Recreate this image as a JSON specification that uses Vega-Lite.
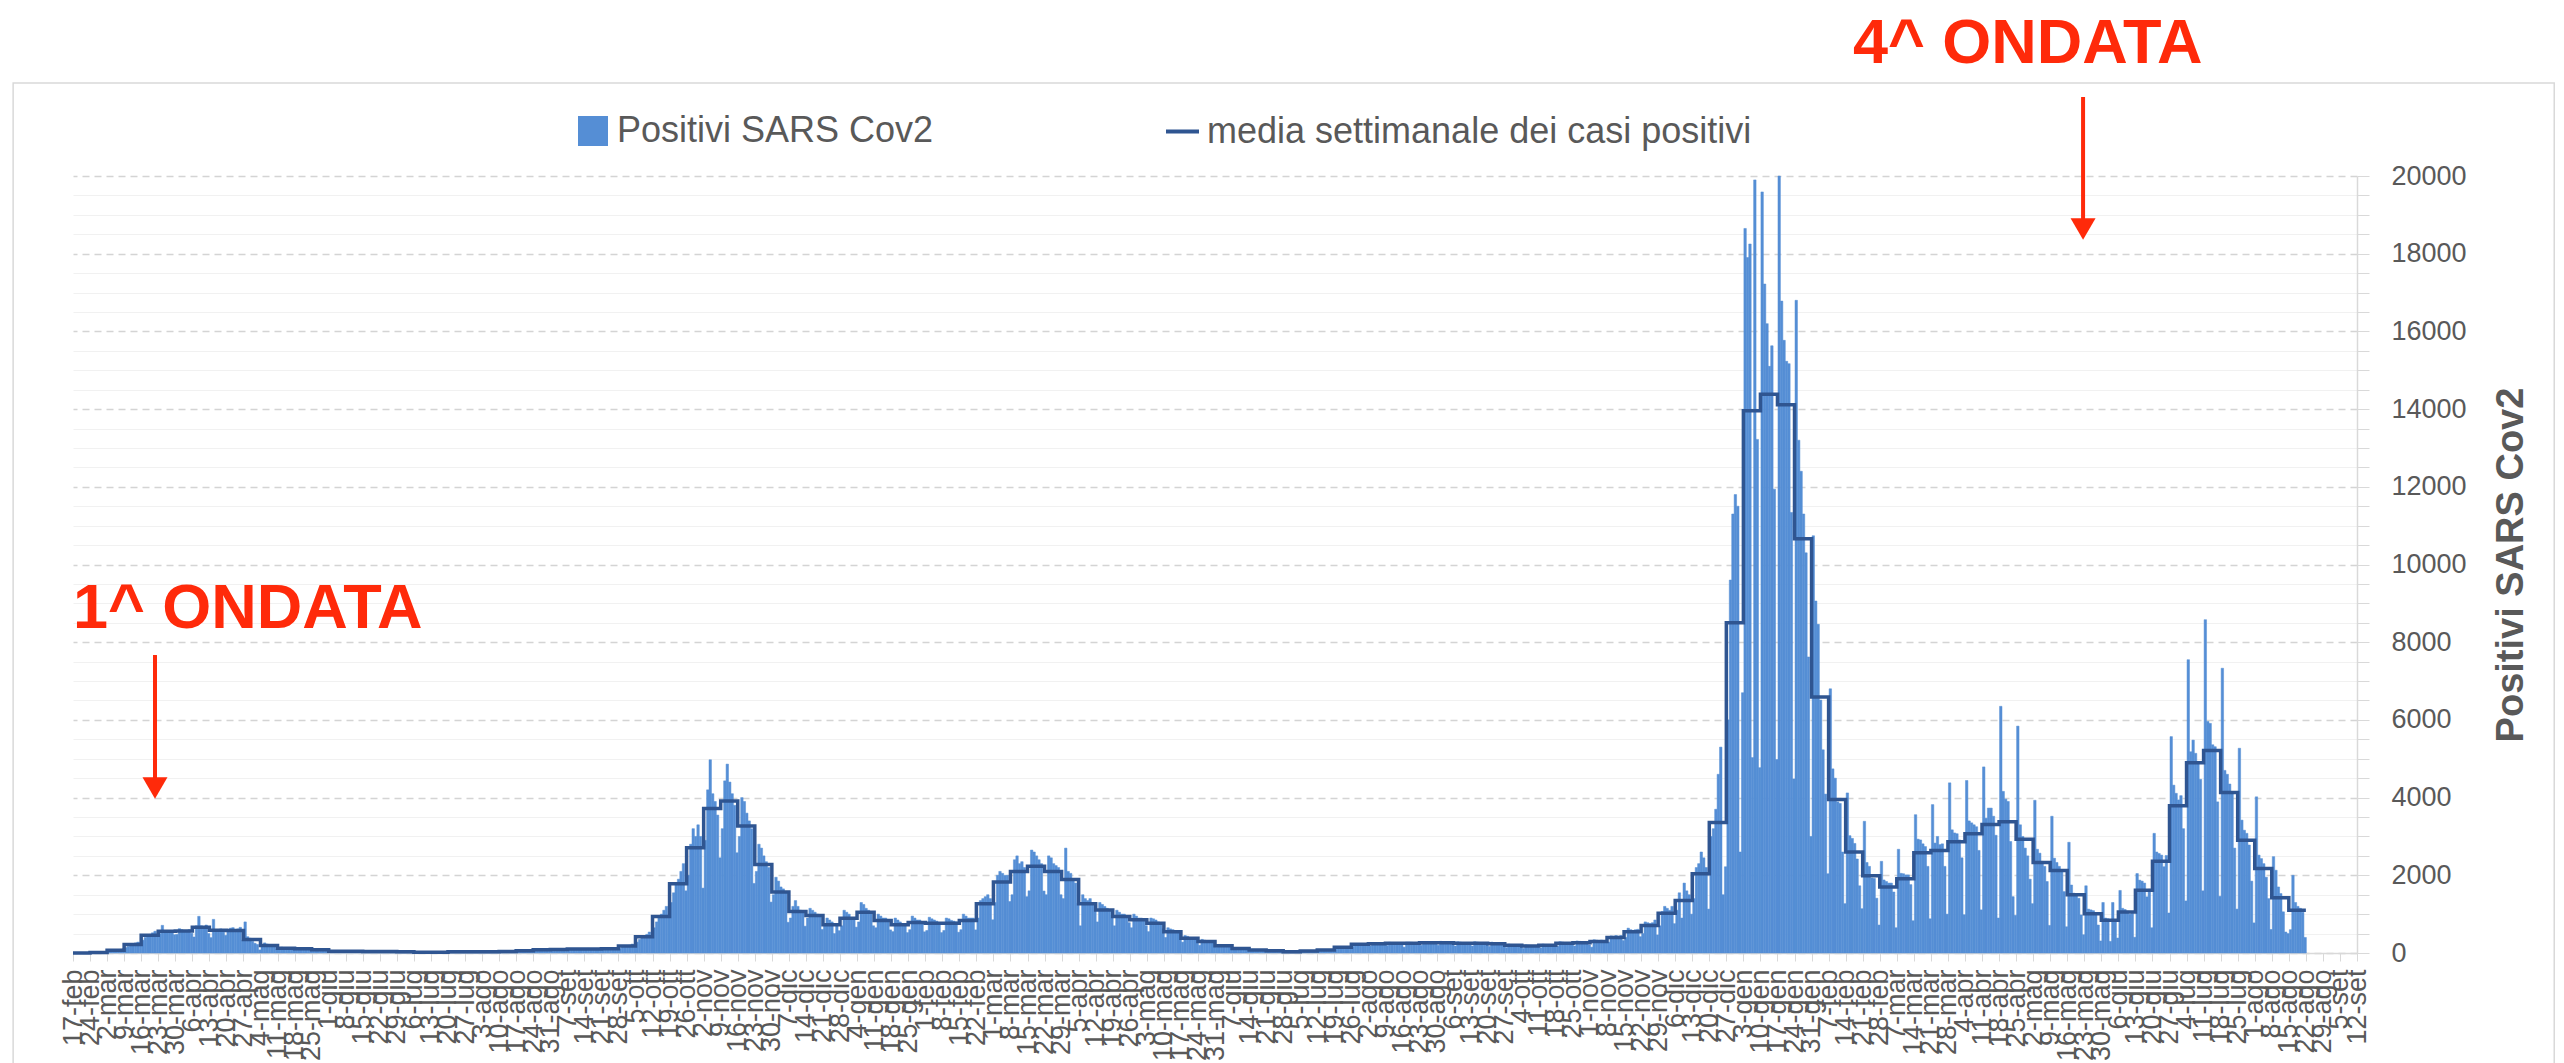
{
"$schema":"https://vega.github.io/schema/vega-lite/v6.json",
"width":2284,"height":777,
"autosize":{"type":"none"},
"padding":{"left":73,"top":176,"right":207,"bottom":110},
"background":"white",
"config":{"view":{"stroke":null},"font":"Liberation Sans","axisX":{"labelOverlap":false}},
"datasets":{
"days":[
{"d":"2020-02-17","p":0},{"d":"2020-02-18","p":0},{"d":"2020-02-19","p":0},{"d":"2020-02-20","p":0},{"d":"2020-02-21","p":2},{"d":"2020-02-22","p":5},{"d":"2020-02-23","p":8},
{"d":"2020-02-24","p":6},{"d":"2020-02-25","p":10},{"d":"2020-02-26","p":12},{"d":"2020-02-27","p":14},{"d":"2020-02-28","p":12},{"d":"2020-02-29","p":18},{"d":"2020-03-01","p":12},
{"d":"2020-03-02","p":30},{"d":"2020-03-03","p":45},{"d":"2020-03-04","p":60},{"d":"2020-03-05","p":70},{"d":"2020-03-06","p":80},{"d":"2020-03-07","p":95},{"d":"2020-03-08","p":110},
{"d":"2020-03-09","p":140},{"d":"2020-03-10","p":170},{"d":"2020-03-11","p":200},{"d":"2020-03-12","p":230},{"d":"2020-03-13","p":260},{"d":"2020-03-14","p":280},{"d":"2020-03-15","p":260},
{"d":"2020-03-16","p":330},{"d":"2020-03-17","p":400},{"d":"2020-03-18","p":450},{"d":"2020-03-19","p":480},{"d":"2020-03-20","p":520},{"d":"2020-03-21","p":560},{"d":"2020-03-22","p":480},
{"d":"2020-03-23","p":500},{"d":"2020-03-24","p":712},{"d":"2020-03-25","p":560},{"d":"2020-03-26","p":580},{"d":"2020-03-27","p":540},{"d":"2020-03-28","p":560},{"d":"2020-03-29","p":470},
{"d":"2020-03-30","p":480},{"d":"2020-03-31","p":626},{"d":"2020-04-01","p":600},{"d":"2020-04-02","p":560},{"d":"2020-04-03","p":580},{"d":"2020-04-04","p":600},{"d":"2020-04-05","p":510},
{"d":"2020-04-06","p":412},{"d":"2020-04-07","p":700},{"d":"2020-04-08","p":944},{"d":"2020-04-09","p":700},{"d":"2020-04-10","p":640},{"d":"2020-04-11","p":720},{"d":"2020-04-12","p":500},
{"d":"2020-04-13","p":395},{"d":"2020-04-14","p":866},{"d":"2020-04-15","p":600},{"d":"2020-04-16","p":560},{"d":"2020-04-17","p":620},{"d":"2020-04-18","p":600},{"d":"2020-04-19","p":455},
{"d":"2020-04-20","p":560},{"d":"2020-04-21","p":640},{"d":"2020-04-22","p":652},{"d":"2020-04-23","p":600},{"d":"2020-04-24","p":620},{"d":"2020-04-25","p":660},{"d":"2020-04-26","p":330},
{"d":"2020-04-27","p":800},{"d":"2020-04-28","p":420},{"d":"2020-04-29","p":380},{"d":"2020-04-30","p":300},{"d":"2020-05-01","p":250},{"d":"2020-05-02","p":220},{"d":"2020-05-03","p":80},
{"d":"2020-05-04","p":180},{"d":"2020-05-05","p":260},{"d":"2020-05-06","p":230},{"d":"2020-05-07","p":200},{"d":"2020-05-08","p":190},{"d":"2020-05-09","p":170},{"d":"2020-05-10","p":100},
{"d":"2020-05-11","p":110},{"d":"2020-05-12","p":150},{"d":"2020-05-13","p":140},{"d":"2020-05-14","p":130},{"d":"2020-05-15","p":120},{"d":"2020-05-16","p":110},{"d":"2020-05-17","p":80},
{"d":"2020-05-18","p":100},{"d":"2020-05-19","p":130},{"d":"2020-05-20","p":120},{"d":"2020-05-21","p":115},{"d":"2020-05-22","p":110},{"d":"2020-05-23","p":105},{"d":"2020-05-24","p":90},
{"d":"2020-05-25","p":70},{"d":"2020-05-26","p":100},{"d":"2020-05-27","p":95},{"d":"2020-05-28","p":90},{"d":"2020-05-29","p":85},{"d":"2020-05-30","p":80},{"d":"2020-05-31","p":75},
{"d":"2020-06-01","p":40},{"d":"2020-06-02","p":55},{"d":"2020-06-03","p":50},{"d":"2020-06-04","p":45},{"d":"2020-06-05","p":45},{"d":"2020-06-06","p":40},{"d":"2020-06-07","p":40},
{"d":"2020-06-08","p":35},{"d":"2020-06-09","p":50},{"d":"2020-06-10","p":48},{"d":"2020-06-11","p":45},{"d":"2020-06-12","p":40},{"d":"2020-06-13","p":40},{"d":"2020-06-14","p":36},
{"d":"2020-06-15","p":30},{"d":"2020-06-16","p":48},{"d":"2020-06-17","p":45},{"d":"2020-06-18","p":42},{"d":"2020-06-19","p":40},{"d":"2020-06-20","p":40},{"d":"2020-06-21","p":35},
{"d":"2020-06-22","p":30},{"d":"2020-06-23","p":45},{"d":"2020-06-24","p":42},{"d":"2020-06-25","p":40},{"d":"2020-06-26","p":38},{"d":"2020-06-27","p":36},{"d":"2020-06-28","p":35},
{"d":"2020-06-29","p":28},{"d":"2020-06-30","p":40},{"d":"2020-07-01","p":38},{"d":"2020-07-02","p":36},{"d":"2020-07-03","p":35},{"d":"2020-07-04","p":35},{"d":"2020-07-05","p":33},
{"d":"2020-07-06","p":15},{"d":"2020-07-07","p":25},{"d":"2020-07-08","p":22},{"d":"2020-07-09","p":20},{"d":"2020-07-10","p":20},{"d":"2020-07-11","p":18},{"d":"2020-07-12","p":20},
{"d":"2020-07-13","p":14},{"d":"2020-07-14","p":20},{"d":"2020-07-15","p":20},{"d":"2020-07-16","p":18},{"d":"2020-07-17","p":18},{"d":"2020-07-18","p":18},{"d":"2020-07-19","p":18},
{"d":"2020-07-20","p":25},{"d":"2020-07-21","p":35},{"d":"2020-07-22","p":32},{"d":"2020-07-23","p":30},{"d":"2020-07-24","p":30},{"d":"2020-07-25","p":30},{"d":"2020-07-26","p":28},
{"d":"2020-07-27","p":28},{"d":"2020-07-28","p":38},{"d":"2020-07-29","p":35},{"d":"2020-07-30","p":34},{"d":"2020-07-31","p":33},{"d":"2020-08-01","p":32},{"d":"2020-08-02","p":31},
{"d":"2020-08-03","p":30},{"d":"2020-08-04","p":40},{"d":"2020-08-05","p":38},{"d":"2020-08-06","p":36},{"d":"2020-08-07","p":35},{"d":"2020-08-08","p":33},{"d":"2020-08-09","p":33},
{"d":"2020-08-10","p":30},{"d":"2020-08-11","p":42},{"d":"2020-08-12","p":40},{"d":"2020-08-13","p":40},{"d":"2020-08-14","p":38},{"d":"2020-08-15","p":40},{"d":"2020-08-16","p":36},
{"d":"2020-08-17","p":45},{"d":"2020-08-18","p":62},{"d":"2020-08-19","p":65},{"d":"2020-08-20","p":62},{"d":"2020-08-21","p":60},{"d":"2020-08-22","p":66},{"d":"2020-08-23","p":60},
{"d":"2020-08-24","p":70},{"d":"2020-08-25","p":95},{"d":"2020-08-26","p":90},{"d":"2020-08-27","p":88},{"d":"2020-08-28","p":85},{"d":"2020-08-29","p":90},{"d":"2020-08-30","p":77},
{"d":"2020-08-31","p":70},{"d":"2020-09-01","p":100},{"d":"2020-09-02","p":95},{"d":"2020-09-03","p":92},{"d":"2020-09-04","p":90},{"d":"2020-09-05","p":95},{"d":"2020-09-06","p":74},
{"d":"2020-09-07","p":80},{"d":"2020-09-08","p":115},{"d":"2020-09-09","p":110},{"d":"2020-09-10","p":105},{"d":"2020-09-11","p":100},{"d":"2020-09-12","p":105},{"d":"2020-09-13","p":85},
{"d":"2020-09-14","p":80},{"d":"2020-09-15","p":118},{"d":"2020-09-16","p":110},{"d":"2020-09-17","p":108},{"d":"2020-09-18","p":105},{"d":"2020-09-19","p":110},{"d":"2020-09-20","p":83},
{"d":"2020-09-21","p":90},{"d":"2020-09-22","p":125},{"d":"2020-09-23","p":120},{"d":"2020-09-24","p":115},{"d":"2020-09-25","p":112},{"d":"2020-09-26","p":120},{"d":"2020-09-27","p":88},
{"d":"2020-09-28","p":120},{"d":"2020-09-29","p":170},{"d":"2020-09-30","p":180},{"d":"2020-10-01","p":190},{"d":"2020-10-02","p":200},{"d":"2020-10-03","p":230},{"d":"2020-10-04","p":170},
{"d":"2020-10-05","p":280},{"d":"2020-10-06","p":350},{"d":"2020-10-07","p":400},{"d":"2020-10-08","p":440},{"d":"2020-10-09","p":480},{"d":"2020-10-10","p":540},{"d":"2020-10-11","p":450},
{"d":"2020-10-12","p":650},{"d":"2020-10-13","p":800},{"d":"2020-10-14","p":900},{"d":"2020-10-15","p":1000},{"d":"2020-10-16","p":1100},{"d":"2020-10-17","p":1200},{"d":"2020-10-18","p":930},
{"d":"2020-10-19","p":1300},{"d":"2020-10-20","p":1550},{"d":"2020-10-21","p":1750},{"d":"2020-10-22","p":1900},{"d":"2020-10-23","p":2100},{"d":"2020-10-24","p":2300},{"d":"2020-10-25","p":1600},
{"d":"2020-10-26","p":2000},{"d":"2020-10-27","p":2800},{"d":"2020-10-28","p":3200},{"d":"2020-10-29","p":3000},{"d":"2020-10-30","p":3300},{"d":"2020-10-31","p":3000},{"d":"2020-11-01","p":1670},
{"d":"2020-11-02","p":2900},{"d":"2020-11-03","p":4200},{"d":"2020-11-04","p":4974},{"d":"2020-11-05","p":4100},{"d":"2020-11-06","p":3900},{"d":"2020-11-07","p":3550},{"d":"2020-11-08","p":2450},
{"d":"2020-11-09","p":3200},{"d":"2020-11-10","p":4431},{"d":"2020-11-11","p":4862},{"d":"2020-11-12","p":4400},{"d":"2020-11-13","p":4100},{"d":"2020-11-14","p":3800},{"d":"2020-11-15","p":2580},
{"d":"2020-11-16","p":3000},{"d":"2020-11-17","p":4000},{"d":"2020-11-18","p":3900},{"d":"2020-11-19","p":3600},{"d":"2020-11-20","p":3400},{"d":"2020-11-21","p":3200},{"d":"2020-11-22","p":1790},
{"d":"2020-11-23","p":2100},{"d":"2020-11-24","p":2800},{"d":"2020-11-25","p":2700},{"d":"2020-11-26","p":2500},{"d":"2020-11-27","p":2350},{"d":"2020-11-28","p":2200},{"d":"2020-11-29","p":1310},
{"d":"2020-11-30","p":1500},{"d":"2020-12-01","p":1950},{"d":"2020-12-02","p":1850},{"d":"2020-12-03","p":1700},{"d":"2020-12-04","p":1650},{"d":"2020-12-05","p":1550},{"d":"2020-12-06","p":790},
{"d":"2020-12-07","p":900},{"d":"2020-12-08","p":1200},{"d":"2020-12-09","p":1350},{"d":"2020-12-10","p":1200},{"d":"2020-12-11","p":1100},{"d":"2020-12-12","p":1050},{"d":"2020-12-13","p":690},
{"d":"2020-12-14","p":900},{"d":"2020-12-15","p":1150},{"d":"2020-12-16","p":1100},{"d":"2020-12-17","p":1050},{"d":"2020-12-18","p":1000},{"d":"2020-12-19","p":950},{"d":"2020-12-20","p":605},
{"d":"2020-12-21","p":700},{"d":"2020-12-22","p":900},{"d":"2020-12-23","p":850},{"d":"2020-12-24","p":800},{"d":"2020-12-25","p":500},{"d":"2020-12-26","p":750},{"d":"2020-12-27","p":575},
{"d":"2020-12-28","p":700},{"d":"2020-12-29","p":1100},{"d":"2020-12-30","p":1050},{"d":"2020-12-31","p":1000},{"d":"2021-01-01","p":850},{"d":"2021-01-02","p":900},{"d":"2021-01-03","p":665},
{"d":"2021-01-04","p":800},{"d":"2021-01-05","p":1300},{"d":"2021-01-06","p":1250},{"d":"2021-01-07","p":1150},{"d":"2021-01-08","p":1100},{"d":"2021-01-09","p":1050},{"d":"2021-01-10","p":700},
{"d":"2021-01-11","p":650},{"d":"2021-01-12","p":1000},{"d":"2021-01-13","p":950},{"d":"2021-01-14","p":900},{"d":"2021-01-15","p":900},{"d":"2021-01-16","p":850},{"d":"2021-01-17","p":595},
{"d":"2021-01-18","p":550},{"d":"2021-01-19","p":900},{"d":"2021-01-20","p":850},{"d":"2021-01-21","p":800},{"d":"2021-01-22","p":750},{"d":"2021-01-23","p":700},{"d":"2021-01-24","p":525},
{"d":"2021-01-25","p":600},{"d":"2021-01-26","p":950},{"d":"2021-01-27","p":900},{"d":"2021-01-28","p":850},{"d":"2021-01-29","p":850},{"d":"2021-01-30","p":800},{"d":"2021-01-31","p":545},
{"d":"2021-02-01","p":580},{"d":"2021-02-02","p":920},{"d":"2021-02-03","p":880},{"d":"2021-02-04","p":850},{"d":"2021-02-05","p":820},{"d":"2021-02-06","p":780},{"d":"2021-02-07","p":525},
{"d":"2021-02-08","p":580},{"d":"2021-02-09","p":900},{"d":"2021-02-10","p":880},{"d":"2021-02-11","p":840},{"d":"2021-02-12","p":820},{"d":"2021-02-13","p":800},{"d":"2021-02-14","p":535},
{"d":"2021-02-15","p":600},{"d":"2021-02-16","p":1000},{"d":"2021-02-17","p":950},{"d":"2021-02-18","p":900},{"d":"2021-02-19","p":900},{"d":"2021-02-20","p":900},{"d":"2021-02-21","p":595},
{"d":"2021-02-22","p":900},{"d":"2021-02-23","p":1350},{"d":"2021-02-24","p":1400},{"d":"2021-02-25","p":1450},{"d":"2021-02-26","p":1500},{"d":"2021-02-27","p":1400},{"d":"2021-02-28","p":855},
{"d":"2021-03-01","p":1300},{"d":"2021-03-02","p":2000},{"d":"2021-03-03","p":2100},{"d":"2021-03-04","p":2050},{"d":"2021-03-05","p":2000},{"d":"2021-03-06","p":2000},{"d":"2021-03-07","p":1325},
{"d":"2021-03-08","p":1500},{"d":"2021-03-09","p":2400},{"d":"2021-03-10","p":2500},{"d":"2021-03-11","p":2300},{"d":"2021-03-12","p":2350},{"d":"2021-03-13","p":2200},{"d":"2021-03-14","p":1450},
{"d":"2021-03-15","p":1600},{"d":"2021-03-16","p":2650},{"d":"2021-03-17","p":2600},{"d":"2021-03-18","p":2500},{"d":"2021-03-19","p":2400},{"d":"2021-03-20","p":2300},{"d":"2021-03-21","p":1595},
{"d":"2021-03-22","p":1500},{"d":"2021-03-23","p":2500},{"d":"2021-03-24","p":2450},{"d":"2021-03-25","p":2300},{"d":"2021-03-26","p":2250},{"d":"2021-03-27","p":2200},{"d":"2021-03-28","p":1500},
{"d":"2021-03-29","p":1400},{"d":"2021-03-30","p":2700},{"d":"2021-03-31","p":2100},{"d":"2021-04-01","p":2050},{"d":"2021-04-02","p":1900},{"d":"2021-04-03","p":1800},{"d":"2021-04-04","p":1280},
{"d":"2021-04-05","p":700},{"d":"2021-04-06","p":1500},{"d":"2021-04-07","p":1400},{"d":"2021-04-08","p":1350},{"d":"2021-04-09","p":1400},{"d":"2021-04-10","p":1300},{"d":"2021-04-11","p":1205},
{"d":"2021-04-12","p":800},{"d":"2021-04-13","p":1300},{"d":"2021-04-14","p":1250},{"d":"2021-04-15","p":1200},{"d":"2021-04-16","p":1150},{"d":"2021-04-17","p":1100},{"d":"2021-04-18","p":970},
{"d":"2021-04-19","p":700},{"d":"2021-04-20","p":1100},{"d":"2021-04-21","p":1050},{"d":"2021-04-22","p":1000},{"d":"2021-04-23","p":1000},{"d":"2021-04-24","p":950},{"d":"2021-04-25","p":780},
{"d":"2021-04-26","p":650},{"d":"2021-04-27","p":1000},{"d":"2021-04-28","p":950},{"d":"2021-04-29","p":900},{"d":"2021-04-30","p":900},{"d":"2021-05-01","p":880},{"d":"2021-05-02","p":705},
{"d":"2021-05-03","p":550},{"d":"2021-05-04","p":900},{"d":"2021-05-05","p":880},{"d":"2021-05-06","p":850},{"d":"2021-05-07","p":800},{"d":"2021-05-08","p":750},{"d":"2021-05-09","p":625},
{"d":"2021-05-10","p":400},{"d":"2021-05-11","p":650},{"d":"2021-05-12","p":620},{"d":"2021-05-13","p":600},{"d":"2021-05-14","p":550},{"d":"2021-05-15","p":520},{"d":"2021-05-16","p":510},
{"d":"2021-05-17","p":280},{"d":"2021-05-18","p":450},{"d":"2021-05-19","p":430},{"d":"2021-05-20","p":400},{"d":"2021-05-21","p":380},{"d":"2021-05-22","p":370},{"d":"2021-05-23","p":350},
{"d":"2021-05-24","p":200},{"d":"2021-05-25","p":350},{"d":"2021-05-26","p":330},{"d":"2021-05-27","p":310},{"d":"2021-05-28","p":300},{"d":"2021-05-29","p":290},{"d":"2021-05-30","p":285},
{"d":"2021-05-31","p":150},{"d":"2021-06-01","p":220},{"d":"2021-06-02","p":200},{"d":"2021-06-03","p":200},{"d":"2021-06-04","p":180},{"d":"2021-06-05","p":160},{"d":"2021-06-06","p":185},
{"d":"2021-06-07","p":80},{"d":"2021-06-08","p":140},{"d":"2021-06-09","p":130},{"d":"2021-06-10","p":120},{"d":"2021-06-11","p":110},{"d":"2021-06-12","p":110},{"d":"2021-06-13","p":115},
{"d":"2021-06-14","p":60},{"d":"2021-06-15","p":95},{"d":"2021-06-16","p":85},{"d":"2021-06-17","p":80},{"d":"2021-06-18","p":75},{"d":"2021-06-19","p":75},{"d":"2021-06-20","p":76},
{"d":"2021-06-21","p":45},{"d":"2021-06-22","p":70},{"d":"2021-06-23","p":65},{"d":"2021-06-24","p":60},{"d":"2021-06-25","p":60},{"d":"2021-06-26","p":60},{"d":"2021-06-27","p":60},
{"d":"2021-06-28","p":25},{"d":"2021-06-29","p":40},{"d":"2021-06-30","p":38},{"d":"2021-07-01","p":36},{"d":"2021-07-02","p":35},{"d":"2021-07-03","p":35},{"d":"2021-07-04","p":36},
{"d":"2021-07-05","p":35},{"d":"2021-07-06","p":60},{"d":"2021-07-07","p":55},{"d":"2021-07-08","p":55},{"d":"2021-07-09","p":52},{"d":"2021-07-10","p":52},{"d":"2021-07-11","p":55},
{"d":"2021-07-12","p":55},{"d":"2021-07-13","p":85},{"d":"2021-07-14","p":80},{"d":"2021-07-15","p":80},{"d":"2021-07-16","p":80},{"d":"2021-07-17","p":85},{"d":"2021-07-18","p":81},
{"d":"2021-07-19","p":100},{"d":"2021-07-20","p":150},{"d":"2021-07-21","p":160},{"d":"2021-07-22","p":155},{"d":"2021-07-23","p":150},{"d":"2021-07-24","p":160},{"d":"2021-07-25","p":161},
{"d":"2021-07-26","p":170},{"d":"2021-07-27","p":240},{"d":"2021-07-28","p":240},{"d":"2021-07-29","p":230},{"d":"2021-07-30","p":235},{"d":"2021-07-31","p":230},{"d":"2021-08-01","p":230},
{"d":"2021-08-02","p":180},{"d":"2021-08-03","p":260},{"d":"2021-08-04","p":265},{"d":"2021-08-05","p":255},{"d":"2021-08-06","p":250},{"d":"2021-08-07","p":250},{"d":"2021-08-08","p":220},
{"d":"2021-08-09","p":190},{"d":"2021-08-10","p":275},{"d":"2021-08-11","p":270},{"d":"2021-08-12","p":265},{"d":"2021-08-13","p":260},{"d":"2021-08-14","p":250},{"d":"2021-08-15","p":240},
{"d":"2021-08-16","p":150},{"d":"2021-08-17","p":280},{"d":"2021-08-18","p":280},{"d":"2021-08-19","p":275},{"d":"2021-08-20","p":270},{"d":"2021-08-21","p":265},{"d":"2021-08-22","p":230},
{"d":"2021-08-23","p":200},{"d":"2021-08-24","p":295},{"d":"2021-08-25","p":290},{"d":"2021-08-26","p":285},{"d":"2021-08-27","p":280},{"d":"2021-08-28","p":275},{"d":"2021-08-29","p":230},
{"d":"2021-08-30","p":200},{"d":"2021-08-31","p":300},{"d":"2021-09-01","p":290},{"d":"2021-09-02","p":285},{"d":"2021-09-03","p":280},{"d":"2021-09-04","p":270},{"d":"2021-09-05","p":230},
{"d":"2021-09-06","p":180},{"d":"2021-09-07","p":290},{"d":"2021-09-08","p":280},{"d":"2021-09-09","p":270},{"d":"2021-09-10","p":265},{"d":"2021-09-11","p":260},{"d":"2021-09-12","p":205},
{"d":"2021-09-13","p":180},{"d":"2021-09-14","p":290},{"d":"2021-09-15","p":280},{"d":"2021-09-16","p":270},{"d":"2021-09-17","p":265},{"d":"2021-09-18","p":260},{"d":"2021-09-19","p":205},
{"d":"2021-09-20","p":170},{"d":"2021-09-21","p":280},{"d":"2021-09-22","p":270},{"d":"2021-09-23","p":260},{"d":"2021-09-24","p":255},{"d":"2021-09-25","p":250},{"d":"2021-09-26","p":195},
{"d":"2021-09-27","p":140},{"d":"2021-09-28","p":230},{"d":"2021-09-29","p":220},{"d":"2021-09-30","p":215},{"d":"2021-10-01","p":210},{"d":"2021-10-02","p":205},{"d":"2021-10-03","p":166},
{"d":"2021-10-04","p":120},{"d":"2021-10-05","p":210},{"d":"2021-10-06","p":200},{"d":"2021-10-07","p":195},{"d":"2021-10-08","p":190},{"d":"2021-10-09","p":185},{"d":"2021-10-10","p":160},
{"d":"2021-10-11","p":130},{"d":"2021-10-12","p":230},{"d":"2021-10-13","p":220},{"d":"2021-10-14","p":215},{"d":"2021-10-15","p":210},{"d":"2021-10-16","p":200},{"d":"2021-10-17","p":181},
{"d":"2021-10-18","p":170},{"d":"2021-10-19","p":290},{"d":"2021-10-20","p":280},{"d":"2021-10-21","p":270},{"d":"2021-10-22","p":265},{"d":"2021-10-23","p":260},{"d":"2021-10-24","p":215},
{"d":"2021-10-25","p":180},{"d":"2021-10-26","p":310},{"d":"2021-10-27","p":300},{"d":"2021-10-28","p":290},{"d":"2021-10-29","p":285},{"d":"2021-10-30","p":280},{"d":"2021-10-31","p":210},
{"d":"2021-11-01","p":150},{"d":"2021-11-02","p":340},{"d":"2021-11-03","p":330},{"d":"2021-11-04","p":320},{"d":"2021-11-05","p":330},{"d":"2021-11-06","p":320},{"d":"2021-11-07","p":275},
{"d":"2021-11-08","p":280},{"d":"2021-11-09","p":440},{"d":"2021-11-10","p":430},{"d":"2021-11-11","p":450},{"d":"2021-11-12","p":430},{"d":"2021-11-13","p":450},{"d":"2021-11-14","p":320},
{"d":"2021-11-15","p":400},{"d":"2021-11-16","p":640},{"d":"2021-11-17","p":600},{"d":"2021-11-18","p":580},{"d":"2021-11-19","p":600},{"d":"2021-11-20","p":610},{"d":"2021-11-21","p":420},
{"d":"2021-11-22","p":500},{"d":"2021-11-23","p":800},{"d":"2021-11-24","p":780},{"d":"2021-11-25","p":760},{"d":"2021-11-26","p":780},{"d":"2021-11-27","p":850},{"d":"2021-11-28","p":465},
{"d":"2021-11-29","p":700},{"d":"2021-11-30","p":1070},{"d":"2021-12-01","p":1200},{"d":"2021-12-02","p":1150},{"d":"2021-12-03","p":1100},{"d":"2021-12-04","p":1200},{"d":"2021-12-05","p":755},
{"d":"2021-12-06","p":1100},{"d":"2021-12-07","p":1550},{"d":"2021-12-08","p":900},{"d":"2021-12-09","p":1800},{"d":"2021-12-10","p":1600},{"d":"2021-12-11","p":1500},{"d":"2021-12-12","p":1000},
{"d":"2021-12-13","p":1400},{"d":"2021-12-14","p":2200},{"d":"2021-12-15","p":2300},{"d":"2021-12-16","p":2600},{"d":"2021-12-17","p":2450},{"d":"2021-12-18","p":2200},{"d":"2021-12-19","p":1130},
{"d":"2021-12-20","p":3000},{"d":"2021-12-21","p":3200},{"d":"2021-12-22","p":3700},{"d":"2021-12-23","p":4600},{"d":"2021-12-24","p":5300},{"d":"2021-12-25","p":1500},{"d":"2021-12-26","p":2220},
{"d":"2021-12-27","p":6000},{"d":"2021-12-28","p":9600},{"d":"2021-12-29","p":11300},{"d":"2021-12-30","p":11800},{"d":"2021-12-31","p":11500},{"d":"2022-01-01","p":2600},{"d":"2022-01-02","p":6700},
{"d":"2022-01-03","p":18650},{"d":"2022-01-04","p":17900},{"d":"2022-01-05","p":18250},{"d":"2022-01-06","p":5030},{"d":"2022-01-07","p":19900},{"d":"2022-01-08","p":13220},{"d":"2022-01-09","p":4770},
{"d":"2022-01-10","p":19590},{"d":"2022-01-11","p":17220},{"d":"2022-01-12","p":16200},{"d":"2022-01-13","p":15100},{"d":"2022-01-14","p":15630},{"d":"2022-01-15","p":11940},{"d":"2022-01-16","p":4980},
{"d":"2022-01-17","p":20000},{"d":"2022-01-18","p":16780},{"d":"2022-01-19","p":15770},{"d":"2022-01-20","p":15230},{"d":"2022-01-21","p":15170},{"d":"2022-01-22","p":11340},{"d":"2022-01-23","p":4480},
{"d":"2022-01-24","p":16800},{"d":"2022-01-25","p":13200},{"d":"2022-01-26","p":12400},{"d":"2022-01-27","p":11300},{"d":"2022-01-28","p":10300},{"d":"2022-01-29","p":7620},{"d":"2022-01-30","p":3000},
{"d":"2022-01-31","p":10740},{"d":"2022-02-01","p":9060},{"d":"2022-02-02","p":8460},{"d":"2022-02-03","p":6510},{"d":"2022-02-04","p":5230},{"d":"2022-02-05","p":4090},{"d":"2022-02-06","p":2040},
{"d":"2022-02-07","p":6800},{"d":"2022-02-08","p":4740},{"d":"2022-02-09","p":4500},{"d":"2022-02-10","p":3890},{"d":"2022-02-11","p":3850},{"d":"2022-02-12","p":2600},{"d":"2022-02-13","p":1270},
{"d":"2022-02-14","p":4120},{"d":"2022-02-15","p":3020},{"d":"2022-02-16","p":2950},{"d":"2022-02-17","p":2820},{"d":"2022-02-18","p":2420},{"d":"2022-02-19","p":1730},{"d":"2022-02-20","p":1140},
{"d":"2022-02-21","p":3390},{"d":"2022-02-22","p":2330},{"d":"2022-02-23","p":2230},{"d":"2022-02-24","p":1930},{"d":"2022-02-25","p":1920},{"d":"2022-02-26","p":1410},{"d":"2022-02-27","p":720},
{"d":"2022-02-28","p":2360},{"d":"2022-03-01","p":1880},{"d":"2022-03-02","p":1840},{"d":"2022-03-03","p":1800},{"d":"2022-03-04","p":1800},{"d":"2022-03-05","p":1570},{"d":"2022-03-06","p":650},
{"d":"2022-03-07","p":2670},{"d":"2022-03-08","p":2050},{"d":"2022-03-09","p":2040},{"d":"2022-03-10","p":2010},{"d":"2022-03-11","p":2010},{"d":"2022-03-12","p":1760},{"d":"2022-03-13","p":830},
{"d":"2022-03-14","p":3560},{"d":"2022-03-15","p":2930},{"d":"2022-03-16","p":2910},{"d":"2022-03-17","p":2810},{"d":"2022-03-18","p":2740},{"d":"2022-03-19","p":2230},{"d":"2022-03-20","p":880},
{"d":"2022-03-21","p":3820},{"d":"2022-03-22","p":2830},{"d":"2022-03-23","p":3000},{"d":"2022-03-24","p":2790},{"d":"2022-03-25","p":2810},{"d":"2022-03-26","p":2230},{"d":"2022-03-27","p":1000},
{"d":"2022-03-28","p":4380},{"d":"2022-03-29","p":3170},{"d":"2022-03-30","p":3090},{"d":"2022-03-31","p":3070},{"d":"2022-04-01","p":2910},{"d":"2022-04-02","p":2450},{"d":"2022-04-03","p":985},
{"d":"2022-04-04","p":4440},{"d":"2022-04-05","p":3400},{"d":"2022-04-06","p":3350},{"d":"2022-04-07","p":3300},{"d":"2022-04-08","p":3250},{"d":"2022-04-09","p":2640},{"d":"2022-04-10","p":1110},
{"d":"2022-04-11","p":4790},{"d":"2022-04-12","p":3470},{"d":"2022-04-13","p":3730},{"d":"2022-04-14","p":3730},{"d":"2022-04-15","p":3520},{"d":"2022-04-16","p":3030},{"d":"2022-04-17","p":900},
{"d":"2022-04-18","p":6350},{"d":"2022-04-19","p":4160},{"d":"2022-04-20","p":3960},{"d":"2022-04-21","p":3900},{"d":"2022-04-22","p":2870},{"d":"2022-04-23","p":1450},{"d":"2022-04-24","p":970},
{"d":"2022-04-25","p":5840},{"d":"2022-04-26","p":3300},{"d":"2022-04-27","p":3000},{"d":"2022-04-28","p":2700},{"d":"2022-04-29","p":2500},{"d":"2022-04-30","p":1900},{"d":"2022-05-01","p":1270},
{"d":"2022-05-02","p":3930},{"d":"2022-05-03","p":2670},{"d":"2022-05-04","p":2570},{"d":"2022-05-05","p":2360},{"d":"2022-05-06","p":2230},{"d":"2022-05-07","p":1840},{"d":"2022-05-08","p":710},
{"d":"2022-05-09","p":3520},{"d":"2022-05-10","p":2440},{"d":"2022-05-11","p":2330},{"d":"2022-05-12","p":2230},{"d":"2022-05-13","p":2100},{"d":"2022-05-14","p":1580},{"d":"2022-05-15","p":675},
{"d":"2022-05-16","p":2850},{"d":"2022-05-17","p":1750},{"d":"2022-05-18","p":1540},{"d":"2022-05-19","p":1500},{"d":"2022-05-20","p":1410},{"d":"2022-05-21","p":980},{"d":"2022-05-22","p":470},
{"d":"2022-05-23","p":1730},{"d":"2022-05-24","p":1130},{"d":"2022-05-25","p":1110},{"d":"2022-05-26","p":1090},{"d":"2022-05-27","p":980},{"d":"2022-05-28","p":720},{"d":"2022-05-29","p":310},
{"d":"2022-05-30","p":1300},{"d":"2022-05-31","p":900},{"d":"2022-06-01","p":880},{"d":"2022-06-02","p":300},{"d":"2022-06-03","p":1300},{"d":"2022-06-04","p":850},{"d":"2022-06-05","p":385},
{"d":"2022-06-06","p":1610},{"d":"2022-06-07","p":1150},{"d":"2022-06-08","p":1120},{"d":"2022-06-09","p":1080},{"d":"2022-06-10","p":1000},{"d":"2022-06-11","p":1020},{"d":"2022-06-12","p":405},
{"d":"2022-06-13","p":2045},{"d":"2022-06-14","p":1875},{"d":"2022-06-15","p":1850},{"d":"2022-06-16","p":1800},{"d":"2022-06-17","p":1445},{"d":"2022-06-18","p":1640},{"d":"2022-06-19","p":650},
{"d":"2022-06-20","p":3080},{"d":"2022-06-21","p":2600},{"d":"2022-06-22","p":2560},{"d":"2022-06-23","p":2520},{"d":"2022-06-24","p":2220},{"d":"2022-06-25","p":2510},{"d":"2022-06-26","p":1030},
{"d":"2022-06-27","p":5570},{"d":"2022-06-28","p":4320},{"d":"2022-06-29","p":4110},{"d":"2022-06-30","p":3940},{"d":"2022-07-01","p":4050},{"d":"2022-07-02","p":3200},{"d":"2022-07-03","p":1340},
{"d":"2022-07-04","p":7550},{"d":"2022-07-05","p":5180},{"d":"2022-07-06","p":5480},{"d":"2022-07-07","p":5140},{"d":"2022-07-08","p":4880},{"d":"2022-07-09","p":4470},{"d":"2022-07-10","p":1600},
{"d":"2022-07-11","p":8580},{"d":"2022-07-12","p":5960},{"d":"2022-07-13","p":5910},{"d":"2022-07-14","p":5360},{"d":"2022-07-15","p":5310},{"d":"2022-07-16","p":3890},{"d":"2022-07-17","p":1460},
{"d":"2022-07-18","p":7330},{"d":"2022-07-19","p":4700},{"d":"2022-07-20","p":4600},{"d":"2022-07-21","p":4350},{"d":"2022-07-22","p":4100},{"d":"2022-07-23","p":2700},{"d":"2022-07-24","p":1130},
{"d":"2022-07-25","p":5270},{"d":"2022-07-26","p":3420},{"d":"2022-07-27","p":3160},{"d":"2022-07-28","p":3080},{"d":"2022-07-29","p":2780},{"d":"2022-07-30","p":1850},{"d":"2022-07-31","p":775},
{"d":"2022-08-01","p":4020},{"d":"2022-08-02","p":2520},{"d":"2022-08-03","p":2430},{"d":"2022-08-04","p":2300},{"d":"2022-08-05","p":1950},{"d":"2022-08-06","p":1400},{"d":"2022-08-07","p":605},
{"d":"2022-08-08","p":2480},{"d":"2022-08-09","p":2130},{"d":"2022-08-10","p":1700},{"d":"2022-08-11","p":1530},{"d":"2022-08-12","p":1060},{"d":"2022-08-13","p":540},{"d":"2022-08-14","p":500},
{"d":"2022-08-15","p":600},{"d":"2022-08-16","p":2000},{"d":"2022-08-17","p":1300},{"d":"2022-08-18","p":1200},{"d":"2022-08-19","p":1150},{"d":"2022-08-20","p":1050},{"d":"2022-08-21","p":400}
],
"wk":[
{"w":"2020-02-17","m":2},{"w":"2020-02-24","m":12},{"w":"2020-03-02","m":70},{"w":"2020-03-09","m":220},{"w":"2020-03-16","m":460},{"w":"2020-03-23","m":560},{"w":"2020-03-30","m":565},{"w":"2020-04-06","m":660},{"w":"2020-04-13","m":585},{"w":"2020-04-20","m":580},
{"w":"2020-04-27","m":350},{"w":"2020-05-04","m":190},{"w":"2020-05-11","m":120},{"w":"2020-05-18","m":110},{"w":"2020-05-25","m":85},{"w":"2020-06-01","m":45},{"w":"2020-06-08","m":42},{"w":"2020-06-15","m":40},{"w":"2020-06-22","m":38},{"w":"2020-06-29","m":35},
{"w":"2020-07-06","m":20},{"w":"2020-07-13","m":18},{"w":"2020-07-20","m":30},{"w":"2020-07-27","m":33},{"w":"2020-08-03","m":35},{"w":"2020-08-10","m":38},{"w":"2020-08-17","m":60},{"w":"2020-08-24","m":85},{"w":"2020-08-31","m":88},{"w":"2020-09-07","m":100},
{"w":"2020-09-14","m":102},{"w":"2020-09-21","m":110},{"w":"2020-09-28","m":180},{"w":"2020-10-05","m":420},{"w":"2020-10-12","m":940},{"w":"2020-10-19","m":1785},{"w":"2020-10-26","m":2710},{"w":"2020-11-02","m":3720},{"w":"2020-11-09","m":3910},{"w":"2020-11-16","m":3270},
{"w":"2020-11-23","m":2280},{"w":"2020-11-30","m":1570},{"w":"2020-12-07","m":1070},{"w":"2020-12-14","m":965},{"w":"2020-12-21","m":725},{"w":"2020-12-28","m":895},{"w":"2021-01-04","m":1050},{"w":"2021-01-11","m":835},{"w":"2021-01-18","m":725},{"w":"2021-01-25","m":785},
{"w":"2021-02-01","m":765},{"w":"2021-02-08","m":765},{"w":"2021-02-15","m":835},{"w":"2021-02-22","m":1265},{"w":"2021-03-01","m":1825},{"w":"2021-03-08","m":2100},{"w":"2021-03-15","m":2235},{"w":"2021-03-22","m":2100},{"w":"2021-03-29","m":1890},{"w":"2021-04-05","m":1265},
{"w":"2021-04-12","m":1110},{"w":"2021-04-19","m":940},{"w":"2021-04-26","m":855},{"w":"2021-05-03","m":765},{"w":"2021-05-10","m":550},{"w":"2021-05-17","m":380},{"w":"2021-05-24","m":295},{"w":"2021-05-31","m":185},{"w":"2021-06-07","m":115},{"w":"2021-06-14","m":78},
{"w":"2021-06-21","m":60},{"w":"2021-06-28","m":35},{"w":"2021-07-05","m":52},{"w":"2021-07-12","m":78},{"w":"2021-07-19","m":148},{"w":"2021-07-26","m":225},{"w":"2021-08-02","m":240},{"w":"2021-08-09","m":250},{"w":"2021-08-16","m":250},{"w":"2021-08-23","m":265},
{"w":"2021-08-30","m":265},{"w":"2021-09-06","m":250},{"w":"2021-09-13","m":250},{"w":"2021-09-20","m":240},{"w":"2021-09-27","m":198},{"w":"2021-10-04","m":180},{"w":"2021-10-11","m":198},{"w":"2021-10-18","m":250},{"w":"2021-10-25","m":265},{"w":"2021-11-01","m":295},
{"w":"2021-11-08","m":400},{"w":"2021-11-15","m":550},{"w":"2021-11-22","m":705},{"w":"2021-11-29","m":1025},{"w":"2021-12-06","m":1350},{"w":"2021-12-13","m":2040},{"w":"2021-12-20","m":3360},{"w":"2021-12-27","m":8500},{"w":"2022-01-03","m":13960},{"w":"2022-01-10","m":14380},
{"w":"2022-01-17","m":14110},{"w":"2022-01-24","m":10660},{"w":"2022-01-31","m":6590},{"w":"2022-02-07","m":3950},{"w":"2022-02-14","m":2600},{"w":"2022-02-21","m":1990},{"w":"2022-02-28","m":1700},{"w":"2022-03-07","m":1910},{"w":"2022-03-14","m":2580},{"w":"2022-03-21","m":2640},
{"w":"2022-03-28","m":2865},{"w":"2022-04-04","m":3070},{"w":"2022-04-11","m":3310},{"w":"2022-04-18","m":3380},{"w":"2022-04-25","m":2930},{"w":"2022-05-02","m":2330},{"w":"2022-05-09","m":2125},{"w":"2022-05-16","m":1500},{"w":"2022-05-23","m":1010},{"w":"2022-05-30","m":845},
{"w":"2022-06-06","m":1055},{"w":"2022-06-13","m":1615},{"w":"2022-06-20","m":2360},{"w":"2022-06-27","m":3790},{"w":"2022-07-04","m":4900},{"w":"2022-07-11","m":5210},{"w":"2022-07-18","m":4130},{"w":"2022-07-25","m":2905},{"w":"2022-08-01","m":2175},{"w":"2022-08-08","m":1420},
{"w":"2022-08-15","m":1100},{"w":"2022-08-22","m":1100}
]
},
"layer":[
{
"data":{"values":[{}]},
"mark":{"type":"rect","fillOpacity":0,"stroke":"#D9D9D9","strokeWidth":1.5,"clip":false},
"encoding":{
"x":{"datum":{"year":2020,"month":1,"date":23,"hours":10,"utc":true},"type":"temporal"},
"x2":{"datum":{"year":2022,"month":12,"date":2,"utc":true}},
"y":{"datum":22394,"type":"quantitative"},
"y2":{"datum":-5000}
}
},
{
"data":{"name":"days"},
"mark":{"type":"bar","binSpacing":0,"stroke":"#558ED5","strokeWidth":0.5},
"encoding":{
"x":{"field":"d","type":"temporal","timeUnit":"utcyearmonthdate",
"scale":{"type":"utc","domain":[{"year":2020,"month":2,"date":17,"utc":true},{"year":2022,"month":9,"date":12,"utc":true}]},
"axis":{"title":null,"values":{"expr":"sequence(utc(2020,1,17), utc(2022,8,13), 604800000)"},"tickCount":1000,
"labelExpr":"utcdate(datum.value) + '-' + ['gen','feb','mar','apr','mag','giu','lug','ago','set','ott','nov','dic'][utcmonth(datum.value)]",
"labelAngle":270,"labelAlign":"right","labelBaseline":"middle","labelOverlap":false,"labelSeparation":-60,"labelBound":false,"labelFlush":false,
"labelFont":"Liberation Sans","labelFontSize":27,"labelColor":"#595959","labelPadding":8,
"tickSize":8,"tickColor":"#D9D9D9","domainColor":"#D9D9D9","domainWidth":1.5,"grid":false}},
"y":{"field":"p","type":"quantitative",
"scale":{"domain":[0,20000],"nice":false},
"axis":{"orient":"right","title":"Positivi SARS Cov2","tickCount":100,
"values":[0,500,1000,1500,2000,2500,3000,3500,4000,4500,5000,5500,6000,6500,7000,7500,8000,8500,9000,9500,10000,10500,11000,11500,12000,12500,13000,13500,14000,14500,15000,15500,16000,16500,17000,17500,18000,18500,19000,19500,20000],
"labelExpr":"datum.value % 2000 === 0 ? format(datum.value, 'd') : ''",
"labelFont":"Liberation Sans","labelFontSize":27,"labelColor":"#595959","labelPadding":22,"labelOverlap":false,"labelAlign":"left",
"tickSize":12,"tickColor":"#D9D9D9","domainColor":"#D9D9D9","domainWidth":1.5,
"grid":true,
"gridDash":{"condition":{"test":"datum.value % 2000 === 0","value":[7,5]},"value":[]},
"gridColor":{"condition":{"test":"datum.value % 2000 === 0","value":"#D4D4D4"},"value":"#F1F1F1"},
"gridWidth":{"condition":{"test":"datum.value % 2000 === 0","value":1.3},"value":1},
"titleAngle":270,"titleBaseline":"top","titleFont":"Liberation Sans","titleFontSize":38,"titleFontWeight":"bold","titleColor":"#595959","titlePadding":26}},
"fill":{"datum":"Positivi SARS Cov2","type":"nominal","scale":{"range":["#558ED5"]},
"legend":{"orient":"none","legendX":502,"legendY":-63,"title":null,"symbolType":"square","symbolSize":900,"symbolStrokeWidth":0,
"labelFont":"Liberation Sans","labelFontSize":36,"labelColor":"#595959","labelOffset":6,"labelLimit":0,"padding":0}}
}
},
{
"data":{"name":"wk"},
"mark":{"type":"line","interpolate":"step-after","strokeWidth":3.5},
"encoding":{
"x":{"field":"w","type":"temporal","title":null},
"y":{"field":"m","type":"quantitative"},
"stroke":{"datum":"media settimanale dei casi positivi","type":"nominal","scale":{"range":["#2F5591"]},
"legend":{"orient":"none","legendX":1091,"legendY":-63,"title":null,"symbolType":"stroke","symbolSize":1089,"symbolStrokeWidth":4,
"labelFont":"Liberation Sans","labelFontSize":36,"labelColor":"#595959","labelOffset":6,"labelLimit":0,"padding":0}}
}
},
{
"data":{"values":[{}]},
"mark":{"type":"text","text":"1^ ONDATA","font":"Liberation Sans","fontSize":63,"fontWeight":"bold","color":"#FF2A0A","align":"left","baseline":"alphabetic"},
"encoding":{"x":{"datum":{"year":2020,"month":2,"date":17,"utc":true},"type":"temporal"},"y":{"datum":8365,"type":"quantitative"}}
},
{
"data":{"values":[{}]},
"mark":{"type":"text","text":"4^ ONDATA","font":"Liberation Sans","fontSize":63,"fontWeight":"bold","color":"#FF2A0A","align":"left","baseline":"alphabetic"},
"encoding":{"x":{"datum":{"year":2022,"month":2,"date":17,"utc":true},"type":"temporal"},"y":{"datum":22909,"type":"quantitative"}}
},
{
"data":{"values":[{}]},
"mark":{"type":"rule","color":"#FF2A0A","strokeWidth":4},
"encoding":{"x":{"datum":{"year":2020,"month":3,"date":21,"hours":16,"utc":true},"type":"temporal"},"y":{"datum":7670,"type":"quantitative"},"y2":{"datum":4450}}
},
{
"data":{"values":[{}]},
"mark":{"type":"rule","color":"#FF2A0A","strokeWidth":4},
"encoding":{"x":{"datum":{"year":2022,"month":5,"date":22,"hours":12,"utc":true},"type":"temporal"},"y":{"datum":22033,"type":"quantitative"},"y2":{"datum":18800}}
},
{
"data":{"values":[{}]},
"mark":{"type":"point","shape":"triangle-down","filled":true,"color":"#FF2A0A","size":625,"opacity":1,"strokeWidth":0},
"encoding":{"x":{"datum":{"year":2020,"month":3,"date":21,"hours":16,"utc":true},"type":"temporal"},"y":{"datum":4247,"type":"quantitative"}}
},
{
"data":{"values":[{}]},
"mark":{"type":"point","shape":"triangle-down","filled":true,"color":"#FF2A0A","size":625,"opacity":1,"strokeWidth":0},
"encoding":{"x":{"datum":{"year":2022,"month":5,"date":22,"hours":12,"utc":true},"type":"temporal"},"y":{"datum":18636,"type":"quantitative"}}
}
]
}
